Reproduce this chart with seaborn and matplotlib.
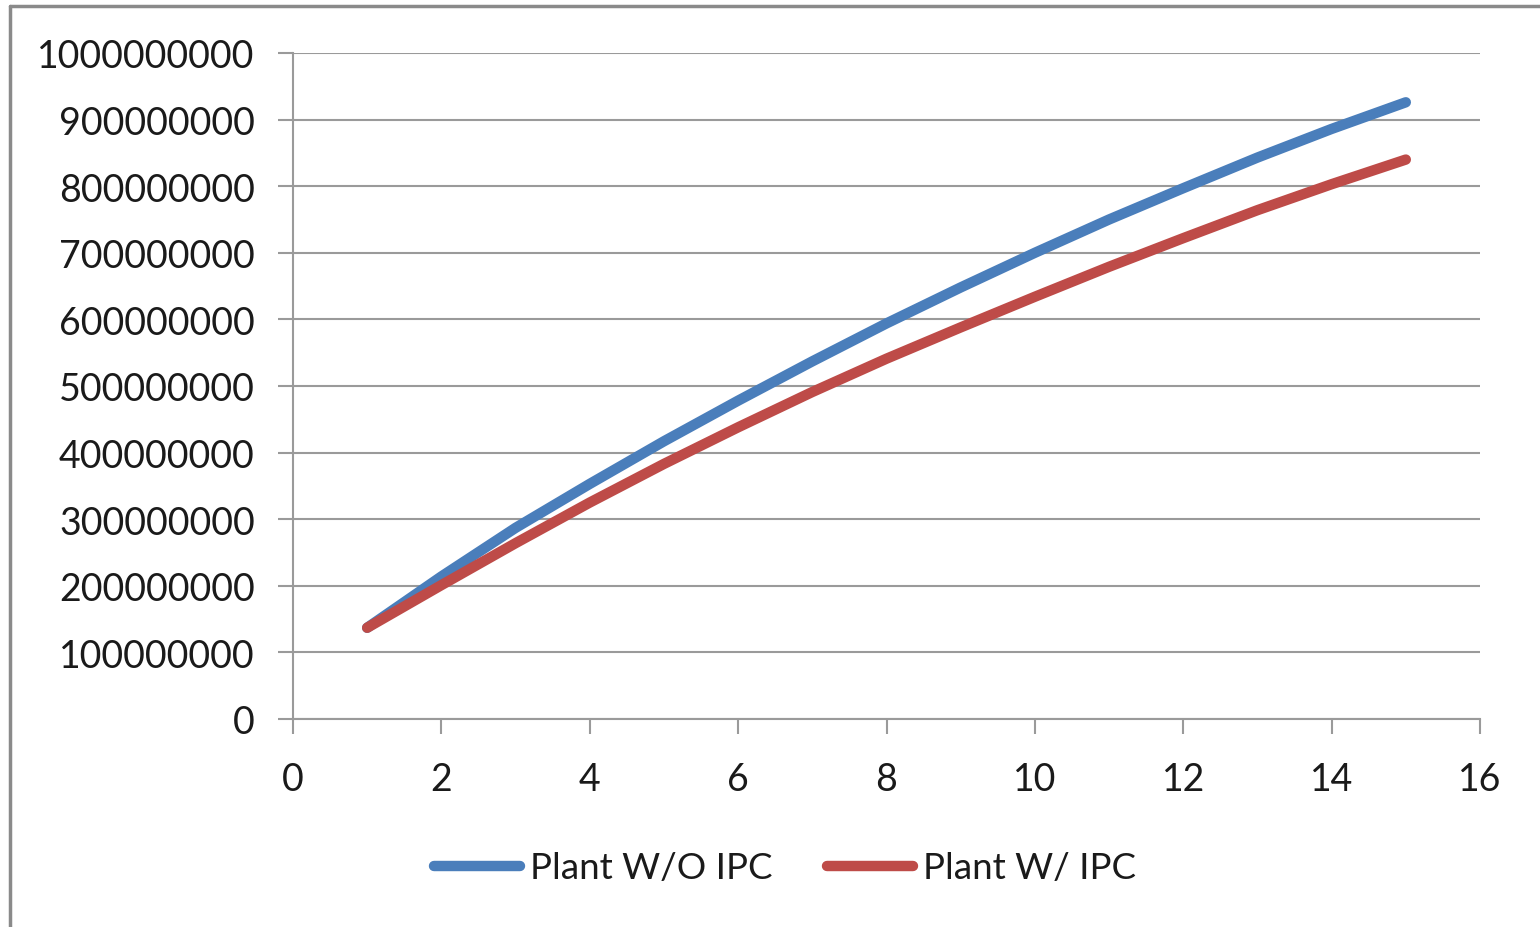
import matplotlib
matplotlib.use("Agg")
import matplotlib.pyplot as plt
import seaborn as sns
import pandas as pd
from matplotlib.lines import Line2D

# Data
years = [1, 2, 3, 4, 5, 6, 7, 8, 9, 10, 11, 12, 13, 14, 15]
plant_wo_ipc = [137e6, 214e6, 287e6, 353e6, 417e6, 478e6, 537e6, 594e6, 648e6,
                700e6, 750e6, 797e6, 843e6, 886e6, 926e6]
plant_w_ipc = [137e6, 201e6, 264e6, 325e6, 383e6, 438e6, 491e6, 541e6, 588e6,
               634e6, 679e6, 722e6, 764e6, 803e6, 840e6]
series_names = ["Plant W/O IPC", "Plant W/ IPC"]
y_ticks = [0, 100000000, 200000000, 300000000, 400000000, 500000000,
           600000000, 700000000, 800000000, 900000000, 1000000000]
x_ticks = [0, 2, 4, 6, 8, 10, 12, 14, 16]

df = pd.DataFrame({
    "x": years * 2,
    "y": plant_wo_ipc + plant_w_ipc,
    "series": [series_names[0]] * len(years) + [series_names[1]] * len(years),
})

sns.set_theme(style="white")
plt.rcParams["font.family"] = ["Lato", "DejaVu Sans"]

fig = plt.figure(figsize=(15.4, 9.28), dpi=100)
ax = fig.add_axes([293 / 1540, 1 - 720 / 928, (1480 - 293) / 1540, (720 - 54) / 928])

palette = {series_names[0]: "#4A7EBB", series_names[1]: "#BE4B48"}
sns.lineplot(data=df, x="x", y="y", hue="series", palette=palette, ax=ax,
             linewidth=7.5, legend=False, sort=False)
for ln in ax.get_lines():
    ln.set_solid_capstyle("round")
    ln.set_solid_joinstyle("round")

ax.set_xlim(0, 16)
ax.set_ylim(0, 1e9)
ax.set_xticks(x_ticks)
ax.set_yticks(y_ticks)
ax.set_yticklabels([str(v) for v in y_ticks])
ax.set_xticklabels([str(v) for v in x_ticks])
ax.set_xlabel("")
ax.set_ylabel("")

grid_c = "#9a9a9a"
ax.grid(axis="y", color=grid_c, linewidth=1.5)
ax.grid(axis="x", visible=False)
ax.set_axisbelow(True)
for s in ["top", "right"]:
    ax.spines[s].set_visible(False)
for s in ["left", "bottom"]:
    ax.spines[s].set_color(grid_c)
    ax.spines[s].set_linewidth(1.5)
ax.tick_params(axis="both", which="major", direction="out", length=10.5,
               width=1.5, color=grid_c, labelsize=27, labelcolor="#1a1a1a")
ax.tick_params(axis="y", pad=17)
ax.tick_params(axis="x", pad=20)
ax.tick_params(axis="both", left=True, bottom=True)

handles = [Line2D([0], [0], color=palette[n], linewidth=7.5, solid_capstyle="round")
           for n in series_names]
fig.legend(handles, series_names, loc="center", bbox_to_anchor=(785 / 1540, 1 - 869 / 928),
           ncol=2, frameon=False, fontsize=26.5, handlelength=2.34, handletextpad=0.27,
           columnspacing=1.47, labelcolor="#1a1a1a")

# outer frame (partial, as in reference)
fig.add_artist(Line2D([10 / 1540, 10 / 1540], [0, 1 - 7 / 928], transform=fig.transFigure,
                      color="#8a8a8a", linewidth=2.5))
fig.add_artist(Line2D([10 / 1540, 1], [1 - 7 / 928, 1 - 7 / 928], transform=fig.transFigure,
                      color="#8a8a8a", linewidth=2.5))

fig.savefig("out.png", dpi=100, facecolor="white")
